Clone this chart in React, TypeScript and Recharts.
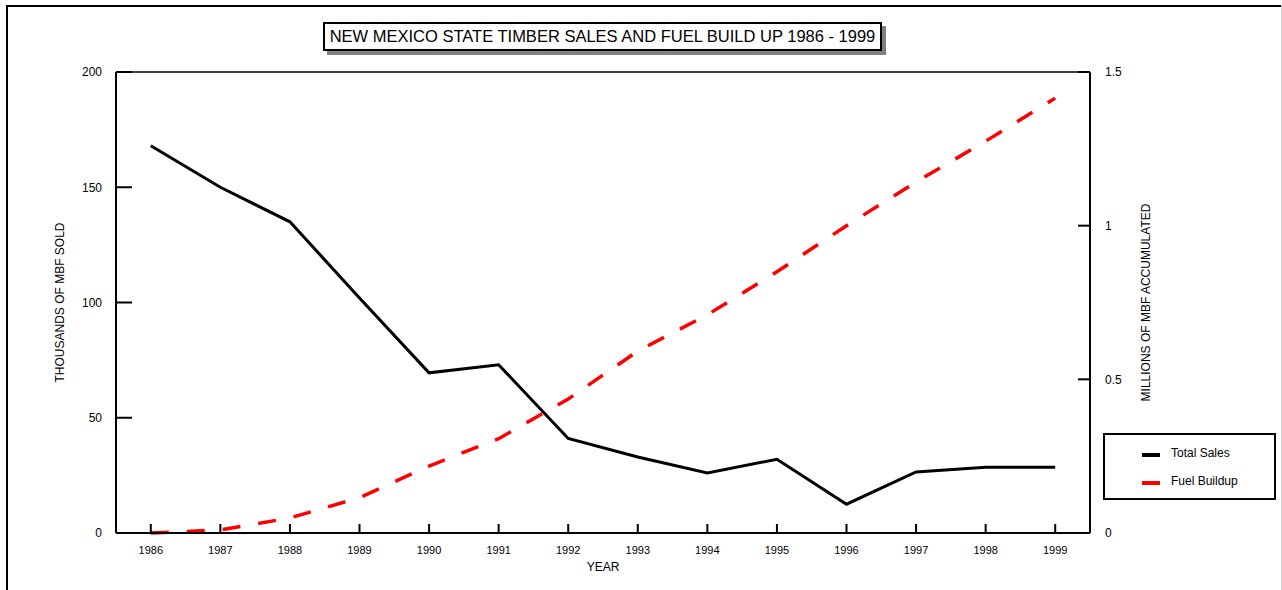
import React from "react";
import { LineChart, Line, XAxis, YAxis, ReferenceLine } from "recharts";

const years = [1986, 1987, 1988, 1989, 1990, 1991, 1992, 1993, 1994, 1995, 1996, 1997, 1998, 1999];
const totalSales = [168, 150, 135, 102, 69.5, 73, 41, 33, 26, 32, 12.5, 26.5, 28.5, 28.5];
const fuelBuildup = [0, 0.01, 0.049, 0.115, 0.218, 0.307, 0.436, 0.592, 0.71, 0.85, 1.0, 1.142, 1.275, 1.415];
const leftTicks = [0, 50, 100, 150, 200];
const rightTicks = [0, 0.5, 1, 1.5];
const seriesNames = ["Total Sales", "Fuel Buildup"];
const seriesColors = ["#000000", "#ff0000"];
const title = "NEW MEXICO STATE TIMBER SALES AND FUEL BUILD UP 1986 - 1999";
const xLabel = "YEAR";
const leftLabel = "THOUSANDS OF MBF SOLD";
const rightLabel = "MILLIONS OF MBF ACCUMULATED";

const data = years.map((y, i) => ({ year: y, sales: totalSales[i], fuel: fuelBuildup[i] }));

const FONT = "'Liberation Sans', Arial, Helvetica, sans-serif";

if (typeof document !== "undefined") {
  document.body.style.margin = "0";
}

export default function App() {
  return (
    <div style={{ position: "relative", width: 1282, height: 590, fontFamily: FONT, background: "#fff", overflow: "hidden" }}>
      {/* outer frame lines */}
      <div style={{ position: "absolute", left: 6, top: 5, width: 1276, height: 2, background: "#000", zIndex: 5 }} />
      <div style={{ position: "absolute", left: 6, top: 5, width: 2, height: 585, background: "#000", zIndex: 5 }} />
      <div style={{ position: "absolute", left: 1281, top: 5, width: 1, height: 585, background: "#d0d0d0", zIndex: 5 }} />

      <div style={{ position: "absolute", left: 8, top: 8, width: 1266, height: 574 }}>
        <LineChart width={1266} height={574} data={data} margin={{ top: 64, right: 0, bottom: 0, left: 0 }}>
          <XAxis
            dataKey="year"
            type="number"
            domain={[1985.5, 1999.5]}
            ticks={years}
            interval={0}
            height={49}
            axisLine={{ stroke: "#000", strokeWidth: 2 }}
            tickLine={{ stroke: "#000", strokeWidth: 2 }}
            tickSize={-9}
            tickMargin={22}
            tick={{ fill: "#000", fontSize: 11, fontFamily: FONT }}
            label={{ value: xLabel, position: "insideBottom", offset: 11, fill: "#000", fontSize: 12, fontFamily: FONT }}
          />
          <YAxis
            yAxisId="left"
            orientation="left"
            domain={[0, 200]}
            ticks={leftTicks}
            interval={0}
            width={108}
            axisLine={{ stroke: "#000", strokeWidth: 2 }}
            tickLine={{ stroke: "#000", strokeWidth: 2 }}
            tickSize={-16}
            tickMargin={30}
            tick={{ fill: "#000", fontSize: 12, fontFamily: FONT }}
            label={{
              value: leftLabel,
              angle: -90,
              position: "insideLeft",
              offset: 52,
              fill: "#000",
              fontSize: 12,
              fontFamily: FONT,
              style: { textAnchor: "middle" },
            }}
          />
          <YAxis
            yAxisId="right"
            orientation="right"
            domain={[0, 1.5]}
            ticks={rightTicks}
            interval={0}
            width={184}
            axisLine={{ stroke: "#000", strokeWidth: 2 }}
            tickLine={{ stroke: "#000", strokeWidth: 2 }}
            tickSize={-12}
            tickMargin={27}
            tick={{ fill: "#000", fontSize: 12, fontFamily: FONT, textAnchor: "start" }}
            label={{
              value: rightLabel,
              angle: -90,
              position: "insideLeft",
              offset: 56,
              fill: "#000",
              fontSize: 12,
              fontFamily: FONT,
              style: { textAnchor: "middle" },
            }}
          />
          <ReferenceLine yAxisId="left" y={200} stroke="#000" strokeWidth={1.5} />
          <Line
            yAxisId="left"
            type="linear"
            dataKey="sales"
            name={seriesNames[0]}
            stroke={seriesColors[0]}
            strokeWidth={3}
            dot={false}
            activeDot={false}
            isAnimationActive={false}
          />
          <Line
            yAxisId="right"
            type="linear"
            dataKey="fuel"
            name={seriesNames[1]}
            stroke={seriesColors[1]}
            strokeWidth={3.5}
            strokeDasharray="18 18"
            dot={false}
            activeDot={false}
            isAnimationActive={false}
          />
        </LineChart>

        {/* title box */}
        <div
          style={{
            position: "absolute",
            left: 315,
            top: 14,
            width: 559,
            height: 29,
            boxSizing: "border-box",
            border: "2px solid #000",
            background: "#fff",
            boxShadow: "4px 4px 0 #808080",
            fontSize: 16.5,
            lineHeight: "25px",
            textAlign: "center",
            color: "#000",
            whiteSpace: "nowrap",
            zIndex: 2,
          }}
        >
          {title}
        </div>

        {/* legend */}
        <div
          style={{
            position: "absolute",
            left: 1095,
            top: 425,
            width: 173,
            height: 67,
            boxSizing: "border-box",
            border: "2px solid #000",
            background: "#fff",
            zIndex: 2,
          }}
        >
          {seriesNames.map((n, i) => (
            <div key={n}>
              <div
                style={{
                  position: "absolute",
                  left: 37,
                  top: 18 + i * 28,
                  width: 18,
                  height: 4,
                  background: seriesColors[i],
                }}
              />
              <div
                style={{
                  position: "absolute",
                  left: 66,
                  top: 10 + i * 28,
                  fontSize: 12,
                  lineHeight: "16px",
                  color: "#000",
                  whiteSpace: "nowrap",
                }}
              >
                {n}
              </div>
            </div>
          ))}
        </div>
      </div>
    </div>
  );
}
